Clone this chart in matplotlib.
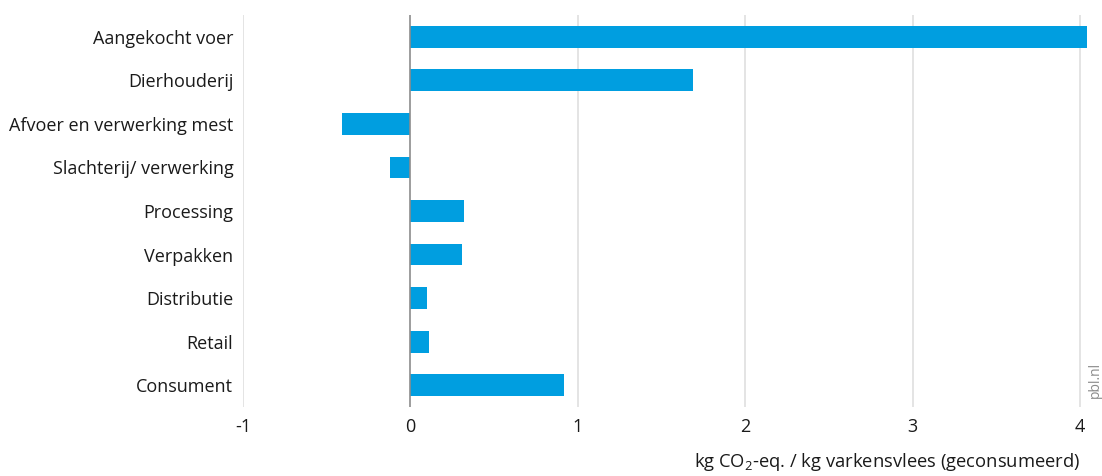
import matplotlib
matplotlib.use("Agg")
import matplotlib.pyplot as plt

categories = ["Aangekocht voer", "Dierhouderij", "Afvoer en verwerking mest",
              "Slachterij/ verwerking", "Processing", "Verpakken",
              "Distributie", "Retail", "Consument"]
values = [4.04, 1.69, -0.41, -0.12, 0.32, 0.31, 0.10, 0.11, 0.92]
xticks = [-1, 0, 1, 2, 3, 4]
xlabel = "kg CO$_2$-eq. / kg varkensvlees (geconsumeerd)"

plt.rcParams['font.family'] = ['Open Sans', 'DejaVu Sans']
plt.rcParams['mathtext.fontset'] = 'custom'
plt.rcParams['mathtext.rm'] = 'Open Sans'
plt.rcParams['mathtext.it'] = 'Open Sans'

fig = plt.figure(figsize=(11.02, 4.76), dpi=100)
W, H = 1102, 476
left, right, top, bottom = 243, 1091, 15, 407
ax = fig.add_axes([left / W, 1 - bottom / H, (right - left) / W, (bottom - top) / H])

y = list(range(len(categories)))
ax.barh(y, values, height=0.5, color="#009ee0", zorder=3)
ax.set_ylim(len(categories) - 0.5, -0.5)
ax.set_xlim(-1, 4.065)
ax.set_yticks(y)
ax.set_yticklabels(categories, fontsize=13, color="#1a1a1a")
ax.set_xticks(xticks)
ax.set_xticklabels([str(t) for t in xticks], fontsize=13, color="#1a1a1a")
ax.tick_params(axis='both', length=0)
ax.tick_params(axis='y', pad=7)
ax.tick_params(axis='x', pad=8)
for t in xticks:
    if t == 0:
        ax.axvline(t, color="#8c8c8c", lw=1.2, zorder=4)
    else:
        ax.axvline(t, color="#dcdcdc", lw=1.1, zorder=1)
for s in ax.spines.values():
    s.set_visible(False)

fig.text(1080 / W, 1 - 462 / H, xlabel, ha='right', va='center', fontsize=13.2, color="#1a1a1a")
fig.text(1095 / W, 1 - 380 / H, "pbl.nl", rotation=90, ha='center', va='center', fontsize=10, color="#8c8c8c")

fig.savefig("out.png", dpi=100)
